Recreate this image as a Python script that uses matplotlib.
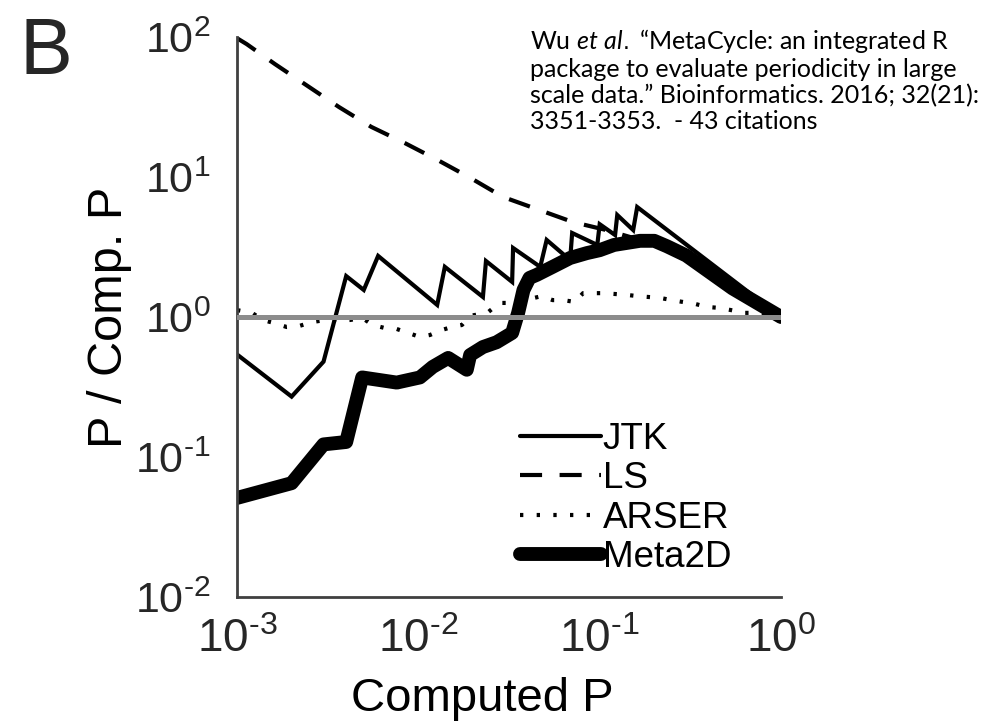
import numpy as np
import matplotlib.pyplot as plt
from matplotlib.ticker import FuncFormatter

plt.rcParams['font.family'] = ['Liberation Sans', 'DejaVu Sans']
plt.rcParams['mathtext.fontset'] = 'custom'
plt.rcParams['mathtext.rm'] = 'Liberation Sans'
plt.rcParams['mathtext.it'] = 'Lato:italic'

# computed P vs ratio of method P to computed P
jtk_p = [0.001, 0.002, 0.003, 0.004, 0.005, 0.006, 0.0127, 0.014, 0.0227, 0.0236,
         0.0329, 0.0333, 0.047, 0.051, 0.0687, 0.0705, 0.097, 0.1, 0.1216, 0.125,
         0.153, 0.161, 1.0]
jtk_r = [0.54, 0.27, 0.48, 1.96, 1.56, 2.73, 1.22, 2.28, 1.39, 2.51,
         1.78, 3.11, 2.28, 3.55, 2.55, 3.98, 3.27, 4.6, 3.85, 5.35,
         4.18, 6.1, 1.0]

ls_p = [0.001, 0.00113, 0.00162, 0.00243, 0.00365, 0.0055, 0.0084, 0.0128, 0.0195,
        0.0293, 0.045, 0.071, 0.107, 0.15, 0.2, 0.3, 0.5, 1.0]
ls_r = [98, 89, 64, 45, 31.6, 22.8, 17.5, 13.2, 9.8,
        7.2, 5.9, 4.77, 4.2, 3.7, 3.3, 2.7, 1.7, 1.0]

arser_p = [0.001, 0.00121, 0.00139, 0.0016, 0.00188, 0.0022, 0.0026, 0.0031, 0.0042,
           0.0049, 0.0056, 0.0065, 0.0076, 0.0088, 0.0102, 0.0116, 0.0135, 0.0153,
           0.0174, 0.0193, 0.024, 0.028, 0.033, 0.048, 0.055, 0.063, 0.073, 0.081,
           0.092, 0.104, 0.121, 0.14, 0.161, 0.185, 0.214, 0.25, 0.288, 0.336, 0.39,
           0.46, 0.53, 0.63, 0.73, 0.86, 1.0]
arser_r = [1.12, 1.07, 0.95, 0.906, 0.848, 0.862, 0.921, 0.952, 0.952,
           0.984, 0.877, 0.835, 0.821, 0.769, 0.72, 0.744, 0.808, 0.848,
           0.877, 1.02, 1.07, 1.26, 1.26, 1.41, 1.32, 1.32, 1.28, 1.48,
           1.48, 1.48, 1.46, 1.44, 1.41, 1.39, 1.37, 1.32, 1.28, 1.24, 1.18,
           1.16, 1.12, 1.07, 1.07, 1.0, 1.0]

meta_p = [0.001, 0.002, 0.003, 0.004, 0.0049, 0.0076, 0.0102, 0.012, 0.0146, 0.0185,
          0.0193, 0.0227, 0.027, 0.0329, 0.0355, 0.038, 0.041, 0.045, 0.055, 0.0687,
          0.085, 0.1, 0.12, 0.167, 0.2, 0.235, 0.3, 0.54, 1.0]
meta_r = [0.051, 0.065, 0.123, 0.128, 0.37, 0.34, 0.37, 0.44, 0.51, 0.42,
          0.535, 0.61, 0.66, 0.77, 1.07, 1.56, 1.9, 2.0, 2.28, 2.64,
          2.86, 3.0, 3.27, 3.5, 3.5, 3.2, 2.75, 1.6, 1.0]


def decade(v, pos):
    # hyphen instead of the math minus sign
    e = int(round(np.log10(v)))
    return r'$\mathregular{10^{\text{%d}}}$' % e


fig = plt.figure(figsize=(9.88, 7.21), dpi=100)
ax = fig.add_axes([0.2399, 0.172, 0.5506, 0.7767])

ax.plot(jtk_p, jtk_r, color='black', lw=3, label='JTK',
        solid_joinstyle='miter', solid_capstyle='round')
ax.plot(ls_p, ls_r, color='black', lw=3, ls=(0, (5.3, 4.2)), label='LS')
ax.plot(arser_p, arser_r, color='black', lw=3, ls=(0, (0.8, 3.2)), label='ARSER')
ax.plot(meta_p, meta_r, color='black', lw=10, label='Meta2D',
        solid_joinstyle='round', solid_capstyle='round')
ax.axhline(1, color='#8c8c8c', lw=3.6, zorder=5)

ax.set_xscale('log')
ax.set_yscale('log')
ax.set_xlim(1e-3, 1)
ax.set_ylim(1e-2, 1e2)
ax.set_xticks([1e-3, 1e-2, 1e-1, 1])
ax.set_yticks([1e-2, 1e-1, 1, 10, 100])
ax.minorticks_off()
ax.xaxis.set_major_formatter(FuncFormatter(decade))
ax.yaxis.set_major_formatter(FuncFormatter(decade))
ax.tick_params(axis='x', length=0, pad=15, labelsize=33, labelcolor='#262626')
ax.tick_params(axis='y', length=0, pad=19, labelsize=31, labelcolor='#262626')

for side in ['top', 'right']:
    ax.spines[side].set_visible(False)
for side in ['left', 'bottom']:
    ax.spines[side].set_color('#404040')
    ax.spines[side].set_linewidth(2)

ax.set_xlabel('Computed P', fontsize=34)
ax.xaxis.set_label_coords(0.45, -0.142)
ax.set_ylabel('P / Comp. P', fontsize=35)
ax.yaxis.set_label_coords(-0.193, 0.5)

ax.legend(loc='center left', bbox_to_anchor=(0.52, 0.176), frameon=False,
          fontsize=26.5, handlelength=2.2, handletextpad=0.05, labelspacing=0.12,
          borderpad=0, borderaxespad=0)

fig.text(0.02, 0.978, 'B', fontsize=57, color='#262626', va='top', ha='left')

cite = ('Wu $\\it{et\\ al.}$ \u201cMetaCycle: an integrated R\n'
        'package to evaluate periodicity in large\n'
        'scale data.\u201d Bioinformatics. 2016; 32(21):\n'
        '3351-3353.  - 43 citations')
fig.text(0.5364, 0.962, cite, fontsize=18, family='Lato', va='top', ha='left',
         linespacing=1.15)

plt.savefig('out.png', dpi=100)
